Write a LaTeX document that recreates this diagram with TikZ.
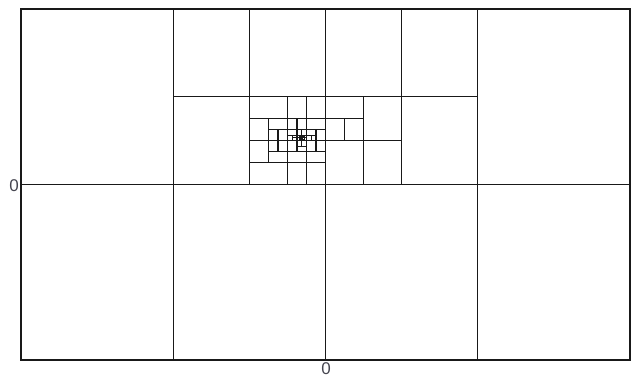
\documentclass[tikz,border=0pt]{standalone}
\usepackage{fontspec}
\setmainfont{Liberation Sans}
\definecolor{gridline}{RGB}{25,25,25}
\definecolor{ticktext}{RGB}{70,70,80}
\begin{document}
\begin{tikzpicture}[x=1pt,y=-1pt,
  cell/.style={draw=gridline,line width=1.2pt},
  fine/.style={draw=gridline,line width=0.9pt},
  tick/.style={text=ticktext,font=\fontsize{17}{17}\selectfont,inner sep=0pt}]
\useasboundingbox (0,0) rectangle (634,379);
\node[tick] (ylab) at (14,186) {0};
\node[tick] (xlab) at (326,369) {0};
\begin{scope}[shift={(21,9)},x=9.515625pt,y=-5.484375pt]
  % outer frame
  \draw[cell] (0,0) rectangle (64,64);
  % vertical splits
  \draw[cell] (32,0) -- (32,64);
  \draw[cell] (16,0) -- (16,64);
  \draw[cell] (48,0) -- (48,64);
  \draw[cell] (24,0) -- (24,32);
  \draw[cell] (40,0) -- (40,32);
  \draw[cell] (36,16) -- (36,32);
  \draw[cell] (28,16) -- (28,32);
  \draw[cell] (30,16) -- (30,32);
  \draw[cell] (34,20) -- (34,24);
  \draw[cell] (26,20) -- (26,28);
  \draw[cell] (27,22) -- (27,26);
  \draw[cell] (31,22) -- (31,26);
  \draw[cell] (29,20) -- (29,26);
  % horizontal splits
  \draw[cell] (0,32) -- (64,32);
  \draw[cell] (16,16) -- (48,16);
  \draw[cell] (24,24) -- (40,24);
  \draw[cell] (24,20) -- (36,20);
  \draw[cell] (24,28) -- (32,28);
  \draw[cell] (26,22) -- (32,22);
  \draw[cell] (26,26) -- (32,26);
  % fine refinement near the cluster
  \draw[fine] (28,23) -- (31,23);
  \draw[fine] (29,25) -- (30,25);
  \draw[fine] (28.5,23) -- (28.5,24);
  \draw[fine] (29.5,22) -- (29.5,25);
  \draw[fine] (30.5,23) -- (30.5,24);
  \draw[fine] (28.5,23.5) -- (30,23.5);
  \draw[fine] (29.25,23) -- (29.25,24);
  \draw[fine] (29.75,23) -- (29.75,24);
  \draw[fine] (29.25,23.25) -- (29.75,23.25);
  \draw[fine] (29.25,23.75) -- (29.75,23.75);
  \draw[fine] (29.375,23.25) -- (29.375,23.75);
  \draw[fine] (29.625,23.25) -- (29.625,23.75);
  \draw[fine] (29.375,23.5) -- (29.625,23.5);
\end{scope}
\end{tikzpicture}
\end{document}
